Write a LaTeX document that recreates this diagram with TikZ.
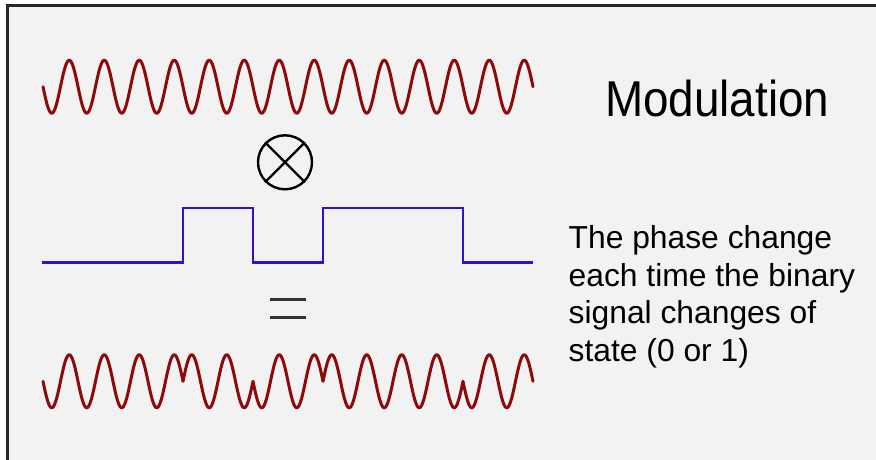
\documentclass[tikz,border=0pt]{standalone}
\usepackage{fontspec}
\setmainfont{Liberation Sans}
\definecolor{panel}{HTML}{F2F2F2}
\definecolor{carrier}{HTML}{8C0A0A}
\definecolor{bitblue}{HTML}{2A14D2}
\definecolor{eqgray}{HTML}{333333}
\tikzset{
  wave/.style={draw=carrier, line width=3pt, line join=round, line cap=round},
  sqwave/.style={draw=bitblue, line width=2.8pt, line join=miter},
  symb/.style={draw=black, line width=2.4pt},
}
\begin{document}
\begin{tikzpicture}[x=1pt,y=-1pt]
\useasboundingbox (0,0) rectangle (876,460);
\fill[white] (0,0) rectangle (876,460);
\draw[fill=panel, draw=black!85, line width=2.6pt] (7.5,5.5) rectangle (900,490);
% carrier
\draw[wave] plot[domain=43:533, samples=560] (\x,{86.7+26.5*sin(10.285714*(\x-43))});
% multiply symbol
\node[circle, symb, minimum size=54pt, inner sep=0pt] (mult) at (285,162.3) {};
\draw[symb, line width=2.2pt] (mult.north west) -- (mult.south east);
\draw[symb, line width=2.2pt] (mult.north east) -- (mult.south west);
% binary signal
\draw[sqwave] (42,262.7) -- (183,262.7) -- (183,208) -- (253,208) -- (253,262.7)
  -- (323,262.7) -- (323,208) -- (463,208) -- (463,262.7) -- (533,262.7);
% equals
\draw[eqgray, line width=3pt] (270,299.5) -- (306,299.5);
\draw[eqgray, line width=3pt] (270,317.7) -- (306,317.7);
% modulated signal
\draw[wave] plot[domain=43:183, samples=160] (\x,{381.3+26.5*sin(10.285714*(\x-43))})
  -- plot[domain=183:253, samples=80] (\x,{381.3-26.5*sin(10.285714*(\x-43))})
  -- plot[domain=253:323, samples=80] (\x,{381.3+26.5*sin(10.285714*(\x-43))})
  -- plot[domain=323:463, samples=160] (\x,{381.3-26.5*sin(10.285714*(\x-43))})
  -- plot[domain=463:533, samples=80] (\x,{381.3+26.5*sin(10.285714*(\x-43))});
% title
\node[anchor=base west, inner sep=0pt, font=\fontsize{45.8}{50}\selectfont] (title) at (605,116.5)
  {\scalebox{1}[1.1]{Modulation}};
% explanation
\node[anchor=base west, inner sep=0pt, align=left, font=\fontsize{31.8}{37.8}\selectfont] (expl) at (568.5,361.7)
  {The phase change\\each time the binary\\signal changes of\\state (0 or 1)};
\end{tikzpicture}
\end{document}
